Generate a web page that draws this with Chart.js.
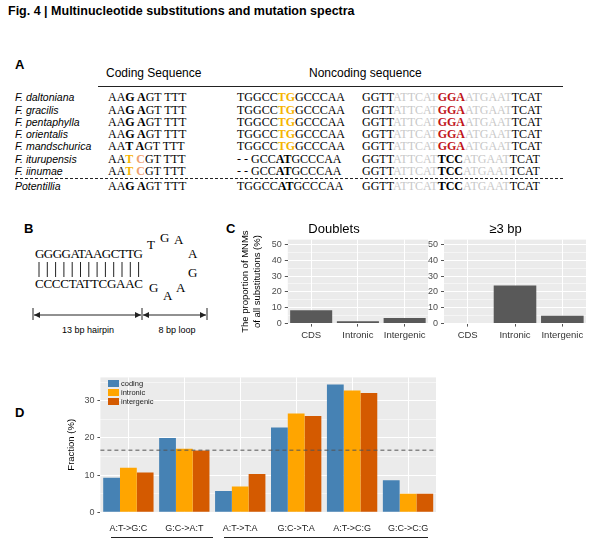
<!DOCTYPE html>
<html>
<head>
<meta charset="utf-8">
<script src="https://cdn.jsdelivr.net/npm/chart.js@4"></script>
<style>
  body { margin: 0; width: 611px; height: 545px; background: #fff; position: relative; font-family: "Liberation Sans", Arial, sans-serif; overflow: hidden; }
  .abs { position: absolute; white-space: nowrap; }
  .lab { font-weight: bold; font-size: 13px; }
  .sp { font-style: italic; font-size: 10.5px; left: 15px; line-height: 12px; }
  .seq { font-family: "Liberation Serif", serif; font-size: 12px; line-height: 12px; }
  .g { color: #c8c8c8; }
  .y { color: #f5b400; font-weight: bold; }
  .o { color: #f0a070; font-weight: bold; }
  .r { color: #c0141a; font-weight: bold; }
  b { font-weight: bold; }
</style>
</head>
<body>
<div class="abs" style="left:8px;top:4px;font-weight:bold;font-size:12.5px;">Fig. 4 | Multinucleotide substitutions and mutation spectra</div>

<div class="abs lab" style="left:15px;top:57px;">A</div>
<div class="abs" style="left:106px;top:66px;font-size:12px;">Coding Sequence</div>
<div class="abs" style="left:309px;top:66px;font-size:12px;">Noncoding sequence</div>
<div class="abs" style="left:98px;top:86px;width:465px;border-top:1.5px solid #222;"></div>
<div class="abs" style="left:15px;top:178px;width:548px;border-top:1px dashed #222;"></div>
<div id="seqs"></div>

<div class="abs lab" style="left:24px;top:221px;">B</div>
<svg class="abs" style="left:0;top:220px;" width="230" height="120">
  <g font-family="Liberation Serif, serif" font-size="13">
    <text x="35" y="38" textLength="108">GGGGATAAGCTTG</text>
    <text x="35" y="68" textLength="108">CCCCTATTCGAAC</text>
    <text x="147" y="29">T</text><text x="160" y="22">G</text><text x="174" y="24">A</text>
    <text x="188" y="38">A</text><text x="188" y="57">G</text><text x="176" y="72">A</text>
    <text x="163" y="80">A</text><text x="149" y="72">G</text>
  </g>
  <g stroke="#222" stroke-width="1" id="bars"></g>
  <g stroke="#222" stroke-width="1" fill="none">
    <line x1="33" y1="88" x2="33" y2="100"/><line x1="142" y1="88" x2="142" y2="100"/><line x1="207" y1="88" x2="207" y2="100"/>
    <line x1="34" y1="95" x2="141" y2="95"/><line x1="143" y1="95" x2="206" y2="95"/>
  </g>
  <g fill="#222">
    <path d="M34 95 L40 92 L40 98 Z"/><path d="M141 95 L135 92 L135 98 Z"/>
    <path d="M143 95 L149 92 L149 98 Z"/><path d="M206 95 L200 92 L200 98 Z"/>
  </g>
  <g font-size="9" font-family="Liberation Sans, Arial" text-anchor="middle">
    <text x="88" y="113">13 bp hairpin</text><text x="177" y="113">8 bp loop</text>
  </g>
</svg>

<div class="abs lab" style="left:226px;top:221px;">C</div>
<div class="abs" style="left:240px;top:222px;width:190px;height:122px;"><canvas id="c1"></canvas></div>
<div class="abs" style="left:425px;top:222px;width:163px;height:122px;"><canvas id="c2"></canvas></div>

<div class="abs lab" style="left:15px;top:405px;">D</div>
<div class="abs" style="left:62px;top:369px;width:374px;height:168px;"><canvas id="d"></canvas></div>
<div class="abs" style="left:111px;top:537px;width:102px;border-top:1px solid #222;"></div>
<div class="abs" style="left:224px;top:537px;width:204px;border-top:1px solid #222;"></div>

<script>
"use strict";

const species = ["F. daltoniana", "F. gracilis", "F. pentaphylla", "F. orientalis", "F. mandschurica", "F. iturupensis", "F. iinumae", "Potentillia"];
const codingSeqs = [
    "AA<b>G A</b>GT TTT", "AA<b>G A</b>GT TTT", "AA<b>G A</b>GT TTT", "AA<b>G A</b>GT TTT",
    "AA<b>T A</b>GT TTT", "AA<span class='y'>T</span> <span class='o'>C</span>GT TTT", "AA<span class='y'>T</span> <span class='o'>C</span>GT TTT", "AA<b>G A</b>GT TTT"
];
const ncSeqs1 = [
    "TGGCC<span class='y'>TG</span>GCCCAA", "TGGCC<span class='y'>TG</span>GCCCAA", "TGGCC<span class='y'>TG</span>GCCCAA", "TGGCC<span class='y'>TG</span>GCCCAA",
    "TGGCC<span class='y'>TG</span>GCCCAA", "- - GCC<b>AT</b>GCCCAA", "- - GCC<b>AT</b>GCCCAA", "TGGCC<b>AT</b>GCCCAA"
];
const redLoop = "GGTT<span class='g'>ATTCAT</span><span class='r'>GGA</span><span class='g'>ATGAAT</span>TCAT";
const blackLoop = "GGTT<span class='g'>ATTCAT</span><b>TCC</b><span class='g'>ATGAAT</span>TCAT";
const ncSeqs2 = [redLoop, redLoop, redLoop, redLoop, redLoop, blackLoop, blackLoop, blackLoop];
const rowCenters = [97, 109.5, 122, 134, 146, 158.5, 171, 186];

let html = "";
species.forEach((name, i) => {
    let top = rowCenters[i] - 6;
    html += `<div class="abs sp" style="top:${top}px">${name}</div>`;
    html += `<div class="abs seq" style="left:108px;top:${top}px">${codingSeqs[i]}</div>`;
    html += `<div class="abs seq" style="left:237px;top:${top}px">${ncSeqs1[i]}</div>`;
    html += `<div class="abs seq" style="left:362px;top:${top}px">${ncSeqs2[i]}</div>`;
});
document.getElementById("seqs").innerHTML = html;

let bars = "";
for (let i = 0; i < 13; i++) {
    let x = 39 + i * 8.3;
    bars += `<line x1="${x}" y1="42" x2="${x}" y2="57"/>`;
}
document.getElementById("bars").innerHTML = bars;

// panel C
const regions = ["CDS", "Intronic", "Intergenic"];
const doublets = [8.5, 1.5, 3.5];
const triplets = [0, 24, 5];

// panel D
const mutTypes = ["A:T->G:C", "G:C->A:T", "A:T->T:A", "G:C->T:A", "A:T->C:G", "G:C->C:G"];
const coding = [9.3, 20.0, 5.7, 22.8, 34.4, 8.6];
const intronic = [12.0, 17.1, 6.9, 26.6, 32.8, 5.0];
const intergenic = [10.7, 16.6, 10.3, 25.9, 32.1, 5.0];
const expectedLine = 16.7;

const ggBackground = {
    id: "ggBackground",
    beforeDraw(chart) {
        let a = chart.chartArea;
        chart.ctx.save();
        chart.ctx.fillStyle = "#EBEBEB";
        chart.ctx.fillRect(a.left, a.top, a.right - a.left, a.bottom - a.top);
        chart.ctx.restore();
    }
};

const dashedLine = {
    id: "dashedLine",
    afterDatasetsDraw(chart) {
        let y = chart.scales.y.getPixelForValue(expectedLine);
        let a = chart.chartArea;
        let ctx = chart.ctx;
        ctx.save();
        ctx.strokeStyle = "#555";
        ctx.setLineDash([4, 3]);
        ctx.beginPath();
        ctx.moveTo(a.left, y);
        ctx.lineTo(a.right, y);
        ctx.stroke();
        ctx.restore();
    }
};

Chart.defaults.font.family = "Liberation Sans, Arial, sans-serif";
Chart.defaults.color = "#4d4d4d";
Chart.defaults.animation = false;

function ggGrid(ctx) {
    return ctx.tick && ctx.tick.value % 10 === 0 ? 1 : 0.5;
}

function smallChart(id, title, values, showYTitle) {
    new Chart(document.getElementById(id), {
        type: "bar",
        data: {
            labels: regions,
            datasets: [{ data: values, backgroundColor: "#595959", categoryPercentage: 1, barPercentage: 0.9 }]
        },
        plugins: [ggBackground],
        options: {
            responsive: true,
            maintainAspectRatio: false,
            layout: { padding: { right: 2 } },
            plugins: {
                legend: { display: false },
                tooltip: { enabled: false },
                title: { display: true, text: title, color: "#000", font: { size: 13, weight: "normal" }, padding: { top: 0, bottom: 2 } }
            },
            scales: {
                x: {
                    grid: { color: "#fff", tickColor: "#555", tickLength: 3, offset: false },
                    border: { display: false },
                    ticks: { font: { size: 9.5 }, color: "#333", maxRotation: 0 }
                },
                y: {
                    min: 0, max: 53,
                    afterBuildTicks: (s) => { s.ticks = [0, 5, 10, 15, 20, 25, 30, 35, 40, 45, 50].map(v => ({ value: v })); },
                    grid: { color: "#fff", lineWidth: ggGrid, tickColor: (c) => c.tick && c.tick.value % 10 === 0 ? "#555" : "transparent", tickLength: 3 },
                    border: { display: false },
                    ticks: { autoSkip: false, font: { size: 9 }, color: "#4d4d4d", callback: (v) => v % 10 === 0 ? v : "" },
                    title: { display: showYTitle, text: ["The proportion of MNMs", "of all substitutions (%)"], color: "#000", font: { size: 9.5 }, padding: { top: 0, bottom: 6 } }
                }
            }
        }
    });
}

smallChart("c1", "Doublets", doublets, true);
smallChart("c2", "\u22653 bp", triplets, false);

new Chart(document.getElementById("d"), {
    type: "bar",
    data: {
        labels: mutTypes,
        datasets: [
            { label: "coding", data: coding, backgroundColor: "#4682B4" },
            { label: "intronic", data: intronic, backgroundColor: "#FFA500" },
            { label: "intergenic", data: intergenic, backgroundColor: "#D45A00" }
        ]
    },
    plugins: [ggBackground, dashedLine],
    options: {
        responsive: true,
        maintainAspectRatio: false,
        layout: { padding: { top: 2 } },
        datasets: { bar: { categoryPercentage: 0.9, barPercentage: 1 } },
        plugins: {
            tooltip: { enabled: false },
            legend: { display: false }
        },
        scales: {
            x: {
                grid: { color: "#fff", tickColor: "transparent", offset: false },
                border: { display: false },
                ticks: { font: { size: 9 }, color: "#222", maxRotation: 0 }
            },
            y: {
                min: 0, max: 36.3,
                afterBuildTicks: (s) => { s.ticks = [0, 5, 10, 15, 20, 25, 30, 35].map(v => ({ value: v })); },
                grid: { color: "#fff", lineWidth: ggGrid, tickColor: (c) => c.tick && c.tick.value % 10 === 0 ? "#555" : "transparent", tickLength: 3 },
                border: { display: false },
                ticks: { autoSkip: false, font: { size: 9 }, color: "#4d4d4d", callback: (v) => v % 10 === 0 ? v : "" },
                title: { display: true, text: "Fraction (%)", color: "#000", font: { size: 9.5 } }
            }
        }
    }
});

// legend drawn as html inside the plot, like ggplot's inset legend
const legendBox = document.createElement("div");
legendBox.className = "abs";
legendBox.style.cssText = "left:108px;top:379px;font-size:7.5px;line-height:9px;color:#222;";
["coding", "intronic", "intergenic"].forEach((name, i) => {
    let col = ["#4682B4", "#FFA500", "#D45A00"][i];
    legendBox.innerHTML += `<div><span style="display:inline-block;width:11px;height:7px;background:${col};margin-right:2px;vertical-align:-1px"></span>${name}</div>`;
});
document.body.appendChild(legendBox);
</script>
</body>
</html>
